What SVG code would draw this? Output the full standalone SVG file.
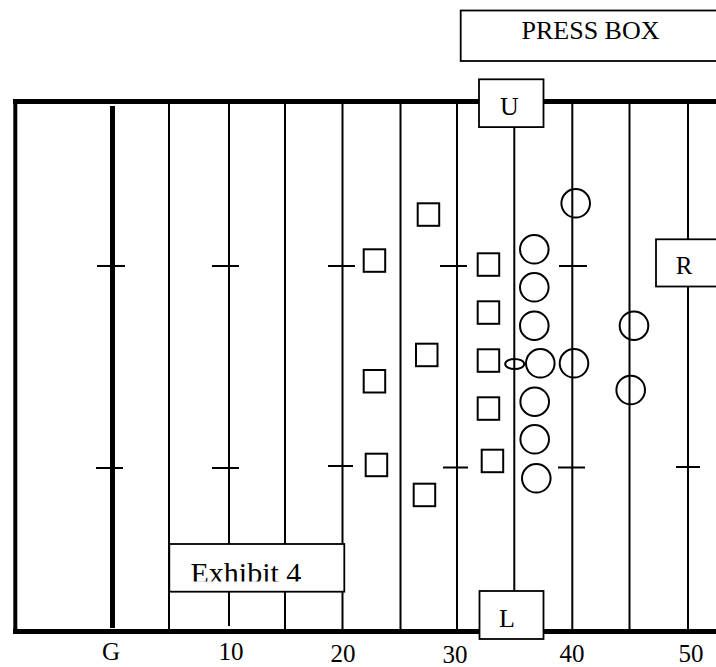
<svg xmlns="http://www.w3.org/2000/svg" width="716" height="667" viewBox="0 0 716 667">
  <style>
    .line { stroke: #000; stroke-width: 2; fill: none; }
    .bold { stroke: #000; stroke-width: 5; fill: none; }
    .tick { stroke: #000; stroke-width: 2; }
    .box { fill: #fff; stroke: #000; stroke-width: 1.8; }
    .def { fill: none; stroke: #000; stroke-width: 2; }
    .off { fill: none; stroke: #000; stroke-width: 2; }
    .txt { font-family: "Liberation Serif", "Times New Roman", serif; fill: #000; }
  </style>
  <defs>
    <clipPath id="exhibitClip">
      <rect x="169" y="544" width="176" height="37.5"/>
    </clipPath>
  </defs>
  <rect width="716" height="667" fill="#fff"/>

  <!-- field outline and yard lines -->
  <g id="field">
    <line class="bold" x1="15.3" y1="101" x2="15.3" y2="631" style="stroke-width:4"/>
    <line class="bold" x1="13" y1="101.5" x2="716" y2="101.5"/>
    <line class="bold" x1="13" y1="631.5" x2="716" y2="631.5"/>
    <line class="bold" x1="112.5" y1="106" x2="112.5" y2="628"/>
    <line class="line" x1="169" y1="102" x2="169" y2="630"/>
    <line class="line" x1="229" y1="102" x2="229" y2="626"/>
    <line class="line" x1="285" y1="102" x2="285" y2="630"/>
    <line class="line" x1="342.5" y1="102" x2="342.5" y2="630"/>
    <line class="line" x1="400.5" y1="102" x2="400.5" y2="630"/>
    <line class="line" x1="457" y1="102" x2="457" y2="630"/>
    <line class="line" x1="514.3" y1="127" x2="514.3" y2="591"/>
    <line class="line" x1="572.3" y1="102" x2="572.3" y2="630"/>
    <line class="line" x1="629.5" y1="102" x2="629.5" y2="630"/>
    <line class="line" x1="688" y1="102" x2="688" y2="630"/>
  </g>

  <!-- hash marks -->
  <g id="hashes">
    <line class="tick" x1="97" y1="266" x2="125" y2="266"/>
    <line class="tick" x1="96" y1="468" x2="123" y2="468"/>
    <line class="tick" x1="212" y1="266" x2="239" y2="266"/>
    <line class="tick" x1="212" y1="468" x2="239" y2="468"/>
    <line class="tick" x1="328" y1="266" x2="355" y2="266"/>
    <line class="tick" x1="328" y1="466" x2="353" y2="466"/>
    <line class="tick" x1="440" y1="266" x2="467" y2="266"/>
    <line class="tick" x1="443" y1="467.5" x2="468" y2="467.5"/>
    <line class="tick" x1="559" y1="266" x2="587" y2="266"/>
    <line class="tick" x1="558" y1="467.5" x2="585" y2="467.5"/>
    <line class="tick" x1="676" y1="467" x2="700" y2="467"/>
  </g>

  <!-- press box -->
  <g id="press-box">
    <rect class="box" x="460.7" y="10.5" width="262" height="50.5"/>
    <text class="txt" x="590.5" y="39.3" font-size="26" text-anchor="middle">PRESS BOX</text>
  </g>

  <!-- officials -->
  <g id="umpire">
    <rect class="box" x="479" y="79.3" width="64.5" height="47.8"/>
    <text class="txt" x="509.5" y="115" font-size="26" text-anchor="middle">U</text>
  </g>
  <g id="linesman">
    <rect class="box" x="479.5" y="591" width="64" height="48"/>
    <text class="txt" x="507" y="627.3" font-size="26" text-anchor="middle">L</text>
  </g>
  <g id="referee">
    <rect class="box" x="656" y="239.3" width="66" height="47.2"/>
    <text class="txt" x="684" y="274.3" font-size="25" text-anchor="middle">R</text>
  </g>

  <!-- defense -->
  <g id="defense">
    <rect class="def" x="417.7" y="203.3" width="21.5" height="22.5"/>
    <rect class="def" x="363.7" y="249.3" width="21.5" height="22.5"/>
    <rect class="def" x="477.7" y="253.3" width="21.5" height="22.5"/>
    <rect class="def" x="477.7" y="301.3" width="21.5" height="22.5"/>
    <rect class="def" x="416" y="343.7" width="21.5" height="22.5"/>
    <rect class="def" x="477.7" y="349.3" width="21.5" height="22.5"/>
    <rect class="def" x="363.7" y="370" width="21.5" height="22.5"/>
    <rect class="def" x="477.7" y="397.3" width="21.5" height="22.5"/>
    <rect class="def" x="365.7" y="453.7" width="21.5" height="22.5"/>
    <rect class="def" x="481.7" y="449.7" width="21.5" height="22.5"/>
    <rect class="def" x="413.7" y="483.7" width="21.5" height="22.5"/>
  </g>

  <!-- ball -->
  <g id="ball">
    <ellipse class="off" cx="514.7" cy="364" rx="9.5" ry="5"/>
  </g>

  <!-- offense -->
  <g id="offense">
    <circle class="off" cx="575.7" cy="203.3" r="14.3"/>
    <circle class="off" cx="534.3" cy="249.3" r="14.3"/>
    <circle class="off" cx="534.3" cy="287.3" r="14.3"/>
    <circle class="off" cx="534.3" cy="325.7" r="14.3"/>
    <circle class="off" cx="540.3" cy="363.3" r="14.3"/>
    <circle class="off" cx="574" cy="363.3" r="14.3"/>
    <circle class="off" cx="534.7" cy="401.7" r="14.3"/>
    <circle class="off" cx="534.7" cy="439.3" r="14.3"/>
    <circle class="off" cx="536.3" cy="478.3" r="14.3"/>
    <circle class="off" cx="634" cy="325.7" r="14.3"/>
    <circle class="off" cx="630.7" cy="390" r="14.3"/>
  </g>

  <!-- caption box -->
  <g id="exhibit">
    <rect class="box" x="169.3" y="544" width="175" height="47.7"/>
    <text class="txt" x="190.5" y="583" font-size="30" clip-path="url(#exhibitClip)">Exhibit 4</text>
  </g>

  <!-- yard labels -->
  <g id="yard-labels" class="txt" font-size="25" text-anchor="middle">
    <text x="111" y="660">G</text>
    <text x="231" y="660">10</text>
    <text x="343" y="662">20</text>
    <text x="455" y="663">30</text>
    <text x="572" y="662">40</text>
    <text x="691" y="662">50</text>
  </g>
</svg>
